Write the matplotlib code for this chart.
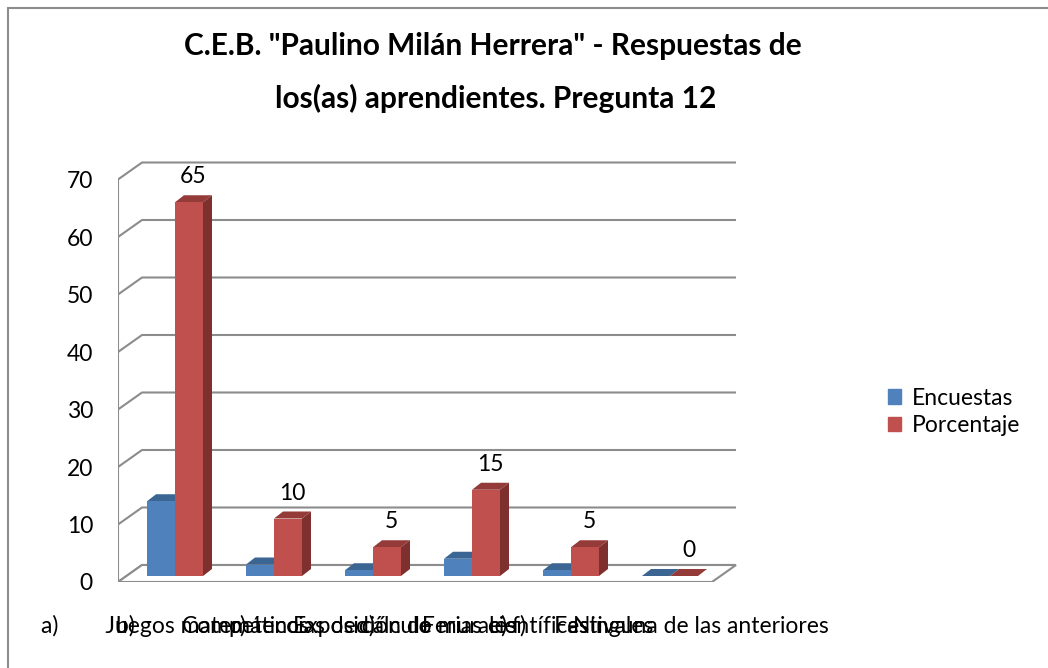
import matplotlib
matplotlib.use("Agg")
import matplotlib.pyplot as plt
from matplotlib.patches import Polygon, Rectangle
import numpy as np

#%% DATA
categories = ["a)        Juegos matemáticos",
              "b)        Competencias de cálculo",
              "c)        Exposición de murales",
              "d)        Ferias científicas",
              "e)        Festivales",
              "f)        Ninguna de las anteriores"]
encuestas = [13, 2, 1, 3, 1, 0]
porcentaje = [65, 10, 5, 15, 5, 0]
y_ticks = [0, 10, 20, 30, 40, 50, 60, 70]
title_1 = 'C.E.B. "Paulino Milán Herrera" - Respuestas de'
title_2 = "los(as) aprendientes. Pregunta 12"

#%% STYLE
W, H = 1048, 668
plt.rcParams["font.family"] = ["Lato", "DejaVu Sans"]
blue = ("#4F81BD", "#3B6593", "#385D8A")   # front, top, side
red = ("#C0504D", "#943B39", "#7D302E")
grid_c = "#8C8C8C"

fig = plt.figure(figsize=(W / 100, H / 100), dpi=100)
# plot area in pixels: front axis x=118, right=740, y0 at 582, top 150
ax = fig.add_axes([118 / W, (H - 582) / H, 622 / W, 432 / H])
px_y = 402.5 / 70           # pixels per unit
px_x = 99.0                 # pixels per category
ax.set_ylim(0, 432 / px_y)
x0 = (118 - 175) / px_x
ax.set_xlim(x0, x0 + 622 / px_x)

wx, wy = 24 / px_x, 17 / px_y          # wall depth
bx, by = 9 / px_x, 7 / px_y            # bar depth
base = 6 / px_y                         # bars sit a bit back on the floor
bw = 28 / px_x

# back wall grid + left wall diagonals
x_right = x0 + 6 + wx
for v in y_ticks:
    ax.plot([x0, x0 + wx, x_right], [v, v + wy, v + wy], color=grid_c, lw=1.5,
            solid_capstyle="butt", zorder=1)
ax.plot([x0, x0], [0, 70], color=grid_c, lw=1.5, zorder=1)
# floor
floor = Polygon([(x0, 0), (x0 + 6, 0), (x0 + 6 + wx, wy), (x0 + wx, wy)],
                closed=True, facecolor="white", edgecolor=grid_c, lw=1.5, zorder=2)
ax.add_patch(floor)


def bar3d(xl, val, cols, z):
    front, top, side = cols
    b = base
    ax.bar(xl, val, width=bw, bottom=b, align="edge", color=front, zorder=z + 0.2,
           linewidth=0)
    ax.add_patch(Polygon([(xl, b + val), (xl + bw, b + val), (xl + bw + bx, b + val + by),
                          (xl + bx, b + val + by)], closed=True, facecolor=top,
                         lw=0, zorder=z))
    ax.add_patch(Polygon([(xl + bw, b), (xl + bw + bx, b + by), (xl + bw + bx, b + val + by),
                          (xl + bw, b + val)], closed=True, facecolor=side,
                         lw=0, zorder=z + 0.1))


for i in range(len(categories)):
    bar3d(i - bw, encuestas[i], blue, 3 + i)
    bar3d(i, porcentaje[i], red, 3.5 + i)
    ax.text(i + bw / 2 + bx / 2, porcentaje[i] + base + by + 3.2, str(porcentaje[i]),
            ha="center", va="center", fontsize=16.5, color="black", zorder=20)

ax.set_yticks(y_ticks)
ax.set_xticks(range(len(categories)))
ax.set_xticklabels(categories)
ax.tick_params(axis="y", length=0, pad=18, labelsize=16.5)
ax.tick_params(axis="x", length=0, pad=24, labelsize=16.5)
for s in ax.spines.values():
    s.set_visible(False)
ax.set_facecolor("none")

# legend
handles = [Rectangle((0, 0), 1, 1, color=blue[0]), Rectangle((0, 0), 1, 1, color=red[0])]
fig.legend(handles, ["Encuestas", "Porcentaje"], loc="center left",
           bbox_to_anchor=(867 / W, 1 - 412 / H), frameon=False, fontsize=16.5,
           handlelength=0.6, handleheight=0.6, handletextpad=0.45, labelspacing=0.28)

# title
fig.text(493 / W, 1 - 55 / H, title_1, ha="center", va="baseline", fontsize=21.5,
         fontweight="bold")
fig.text(496 / W, 1 - 108 / H, title_2, ha="center", va="baseline", fontsize=21.5,
         fontweight="bold")

# chart border (cut off at right and bottom)
fig.patches.append(Rectangle((8 / W, -0.1), 1.2, 1.1 - 8 / H, transform=fig.transFigure,
                             fill=False, edgecolor="#8C8C8C", lw=1.5))

fig.savefig("out.png", dpi=100)
